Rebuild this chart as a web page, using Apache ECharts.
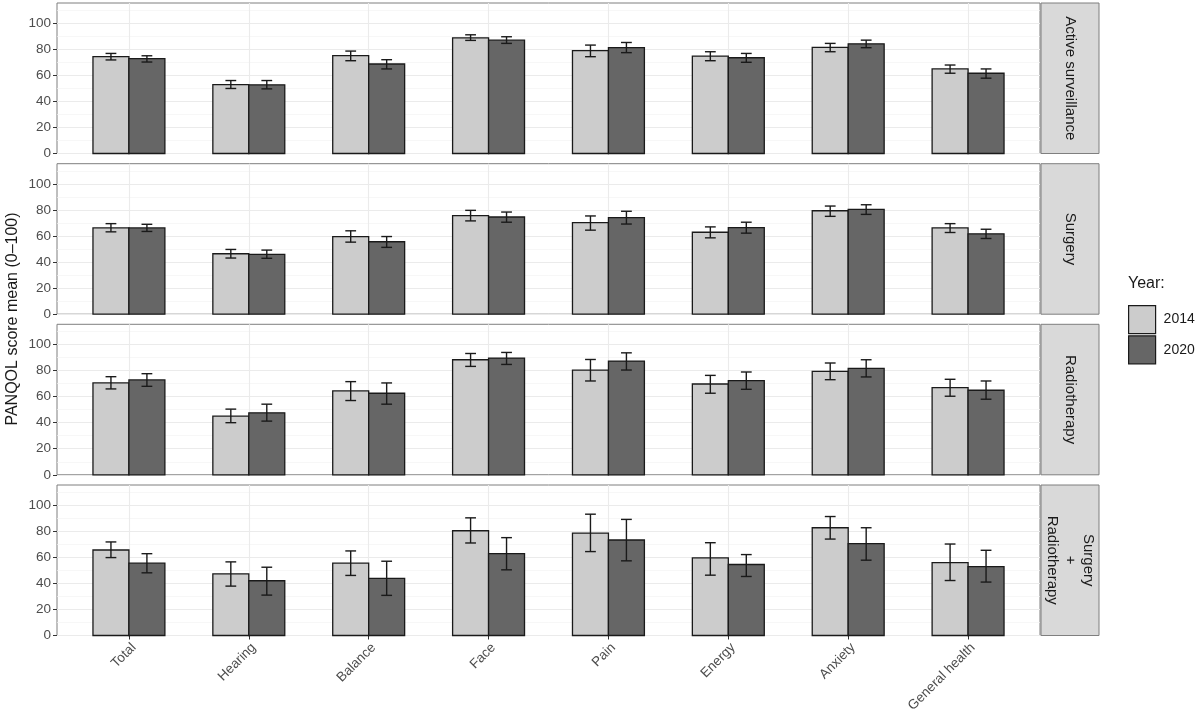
<!DOCTYPE html>
<html>
<head>
<meta charset="utf-8">
<script src="https://cdn.jsdelivr.net/npm/echarts@6/dist/echarts.min.js"></script>
<style>
html,body{margin:0;padding:0;background:#ffffff;}
#chart{width:1200px;height:724px;}
</style>
</head>
<body>
<div id="chart"></div>
<script>
// ---------- data ----------
const categories = ['Total', 'Hearing', 'Balance', 'Face', 'Pain', 'Energy', 'Anxiety', 'General health'];
const panels = ['Active surveillance', 'Surgery', 'Radiotherapy', 'Surgery\n+\nRadiotherapy'];
const years = ['2014', '2020'];
const yTicks = [0, 20, 40, 60, 80, 100];
const yMinorTicks = [10, 30, 50, 70, 90, 110];
const categoryPositions = [1, 2, 3, 4, 5, 6, 7, 8];

// Active surveillance
const asMean2014 = [74.3, 52.9, 75.1, 88.8, 78.9, 74.8, 81.4, 64.9];
const asLow2014  = [71.8, 49.9, 71.2, 86.8, 74.3, 71.2, 78.1, 61.6];
const asHigh2014 = [76.8, 56.0, 78.6, 91.1, 83.2, 78.1, 84.5, 67.9];
const asMean2020 = [72.8, 52.7, 68.7, 87.0, 81.2, 73.5, 84.2, 61.6];
const asLow2020  = [70.2, 49.6, 64.9, 84.5, 77.4, 70.0, 81.2, 57.8];
const asHigh2020 = [75.0, 56.0, 72.0, 89.6, 85.2, 76.8, 87.0, 64.9];

// Surgery
const sgMean2014 = [66.2, 46.4, 59.6, 75.6, 70.3, 62.9, 79.4, 66.2];
const sgLow2014  = [63.2, 43.1, 55.3, 71.6, 64.5, 58.6, 75.1, 62.7];
const sgHigh2014 = [69.5, 49.7, 64.0, 79.7, 75.4, 67.0, 83.0, 69.5];
const sgMean2020 = [66.2, 45.9, 55.6, 74.6, 74.1, 66.5, 80.5, 61.7];
const sgLow2020  = [63.5, 42.9, 51.3, 70.6, 69.2, 62.2, 76.6, 58.1];
const sgHigh2020 = [69.0, 49.2, 59.6, 78.4, 79.0, 70.6, 84.0, 65.2];

// Radiotherapy
const rtMean2014 = [70.5, 45.0, 64.4, 88.3, 80.4, 69.7, 79.4, 66.9];
const rtLow2014  = [65.9, 40.0, 57.0, 83.2, 72.0, 62.6, 73.0, 60.3];
const rtHigh2014 = [75.3, 50.4, 71.5, 93.1, 88.5, 76.3, 85.8, 73.3];
const rtMean2020 = [72.8, 47.6, 62.6, 89.6, 87.3, 72.3, 81.7, 64.9];
const rtLow2020  = [67.9, 41.2, 54.2, 84.7, 80.4, 65.6, 75.1, 58.0];
const rtHigh2020 = [77.6, 54.2, 70.5, 93.9, 93.6, 78.9, 88.3, 72.0];

// Surgery + Radiotherapy
const srMean2014 = [65.6, 47.3, 55.5, 80.4, 78.6, 59.5, 82.7, 56.0];
const srLow2014  = [59.8, 37.9, 46.1, 71.0, 64.4, 46.3, 74.0, 42.2];
const srHigh2014 = [71.8, 56.5, 64.9, 90.3, 93.1, 71.2, 91.3, 70.2];
const srMean2020 = [55.5, 42.0, 43.8, 62.8, 73.3, 54.5, 70.5, 52.9];
const srLow2020  = [48.1, 31.0, 30.8, 50.4, 57.3, 45.3, 57.8, 41.0];
const srHigh2020 = [62.8, 52.4, 57.0, 75.1, 89.1, 62.1, 82.7, 65.4];

// ---------- build ----------
const panelData = [
  [[asMean2014, asLow2014, asHigh2014], [asMean2020, asLow2020, asHigh2020]],
  [[sgMean2014, sgLow2014, sgHigh2014], [sgMean2020, sgLow2020, sgHigh2020]],
  [[rtMean2014, rtLow2014, rtHigh2014], [rtMean2020, rtLow2020, rtHigh2020]],
  [[srMean2014, srLow2014, srHigh2014], [srMean2020, srLow2020, srHigh2020]]
];

const FONT = '"Liberation Sans", Arial, Helvetica, sans-serif';
const fillColors = ['#cccccc', '#666666'];
const offsets = [-0.15, 0.15];
const barHalf = 0.15;
const capHalf = 0.045;
const panelTops = [3, 163.7, 324.3, 485];
const panelHeight = 150.5;
const gridLeft = 57, gridWidth = 983;

function barRender(offset, color) {
  return function (params, api) {
    const x = api.value(0) + offset;
    const y = api.value(1);
    const p1 = api.coord([x - barHalf, y]);
    const p2 = api.coord([x + barHalf, 0]);
    return {
      type: 'rect',
      shape: { x: p1[0], y: p1[1], width: p2[0] - p1[0], height: p2[1] - p1[1] },
      style: { fill: color, stroke: '#1a1a1a', lineWidth: 1.3 }
    };
  };
}

function errRender(offset) {
  return function (params, api) {
    const x = api.value(0) + offset;
    const lo = api.coord([x, api.value(1)]);
    const hi = api.coord([x, api.value(2)]);
    const w = api.size([capHalf, 0])[0];
    const st = { stroke: '#1a1a1a', lineWidth: 1.4 };
    return {
      type: 'group',
      children: [
        { type: 'line', shape: { x1: lo[0], y1: lo[1], x2: hi[0], y2: hi[1] }, style: st },
        { type: 'line', shape: { x1: hi[0] - w, y1: hi[1], x2: hi[0] + w, y2: hi[1] }, style: st },
        { type: 'line', shape: { x1: lo[0] - w, y1: lo[1], x2: lo[0] + w, y2: lo[1] }, style: st }
      ]
    };
  };
}

const grids = [], xAxes = [], yAxes = [], series = [], graphics = [];

panels.forEach(function (name, i) {
  const last = i === panels.length - 1;
  grids.push({
    left: gridLeft, width: gridWidth, top: panelTops[i], height: panelHeight,
    show: true, borderColor: '#7f7f7f', borderWidth: 1, backgroundColor: '#ffffff'
  });
  xAxes.push({
    type: 'value', gridIndex: i, min: 0.4, max: 8.6,
    axisLine: { show: false },
    splitLine: { show: true, lineStyle: { color: '#ebebeb', width: 1.1 } },
    axisTick: { show: last, customValues: categoryPositions, length: 4, lineStyle: { color: '#333333', width: 1 } },
    axisLabel: {
      show: last, customValues: categoryPositions, rotate: 45, margin: 5,
      verticalAlign: 'top', align: 'right',
      fontFamily: FONT, fontSize: 13.5, color: '#4d4d4d',
      formatter: function (v) { return categories[Math.round(v) - 1] || ''; }
    }
  });
  yAxes.push({
    type: 'value', gridIndex: i, min: 0, max: 115.5,
    axisLine: { show: false },
    axisTick: { show: true, customValues: yTicks, length: 4, lineStyle: { color: '#333333', width: 1 } },
    axisLabel: { customValues: yTicks, margin: 6, fontFamily: FONT, fontSize: 13.5, color: '#4d4d4d' },
    splitLine: { show: true, lineStyle: { color: '#ebebeb', width: 1.1 } }
  });
  yAxes.push({
    type: 'value', gridIndex: i, min: 0, max: 115.5, position: 'right',
    axisLine: { show: false },
    axisTick: { show: false, customValues: yMinorTicks },
    axisLabel: { show: false, customValues: yMinorTicks },
    splitLine: { show: true, lineStyle: { color: '#f3f3f3', width: 0.7 } }
  });

  years.forEach(function (yr, j) {
    const d = panelData[i][j];
    series.push({
      type: 'custom', name: yr, xAxisIndex: i, yAxisIndex: 2 * i, z: 2,
      itemStyle: { color: fillColors[j] },
      encode: { x: 0, y: 1 },
      data: d[0].map(function (v, k) { return [categoryPositions[k], v]; }),
      renderItem: barRender(offsets[j], fillColors[j])
    });
  });
  years.forEach(function (yr, j) {
    const d = panelData[i][j];
    series.push({
      type: 'custom', name: 'err' + yr, xAxisIndex: i, yAxisIndex: 2 * i, z: 3,
      encode: { x: 0, y: [1, 2] },
      data: d[1].map(function (v, k) { return [categoryPositions[k], v, d[2][k]]; }),
      renderItem: errRender(offsets[j])
    });
  });

  // facet strip
  graphics.push({
    type: 'rect', silent: true,
    shape: { x: 1041, y: panelTops[i], width: 58, height: panelHeight },
    style: { fill: '#d9d9d9', stroke: '#7f7f7f', lineWidth: 1 }
  });
  graphics.push({
    type: 'text', silent: true,
    x: 1070, y: panelTops[i] + panelHeight / 2, rotation: -Math.PI / 2,
    style: {
      text: name, font: '15px ' + FONT, fill: '#1a1a1a', lineHeight: 18,
      align: 'center', verticalAlign: 'middle', textAlign: 'center', textVerticalAlign: 'middle'
    }
  });
});

// y-axis title
graphics.push({
  type: 'text', silent: true, x: 13, y: 319, rotation: Math.PI / 2,
  style: {
    text: 'PANQOL score mean (0\u2013100)', font: '16px ' + FONT, fill: '#1a1a1a',
    align: 'center', verticalAlign: 'middle', textAlign: 'center', textVerticalAlign: 'middle'
  }
});
// legend title
graphics.push({
  type: 'text', silent: true, x: 1128, y: 284,
  style: {
    text: 'Year:', font: '16px ' + FONT, fill: '#1a1a1a',
    align: 'left', verticalAlign: 'middle', textAlign: 'left', textVerticalAlign: 'middle'
  }
});

const option = {
  animation: false,
  backgroundColor: '#ffffff',
  grid: grids,
  xAxis: xAxes,
  yAxis: yAxes,
  legend: {
    data: years, orient: 'vertical', left: 1128, top: 305,
    icon: 'rect', itemWidth: 27, itemHeight: 28, itemGap: 1, padding: 0,
    selectedMode: false,
    itemStyle: { borderColor: '#1a1a1a', borderWidth: 1.2 },
    textStyle: { fontFamily: FONT, fontSize: 14, color: '#1a1a1a', padding: [0, 0, 0, 3] }
  },
  series: series,
  graphic: graphics
};

const chart = echarts.init(document.getElementById('chart'), null, { renderer: 'canvas' });
chart.setOption(option);
</script>
</body>
</html>
